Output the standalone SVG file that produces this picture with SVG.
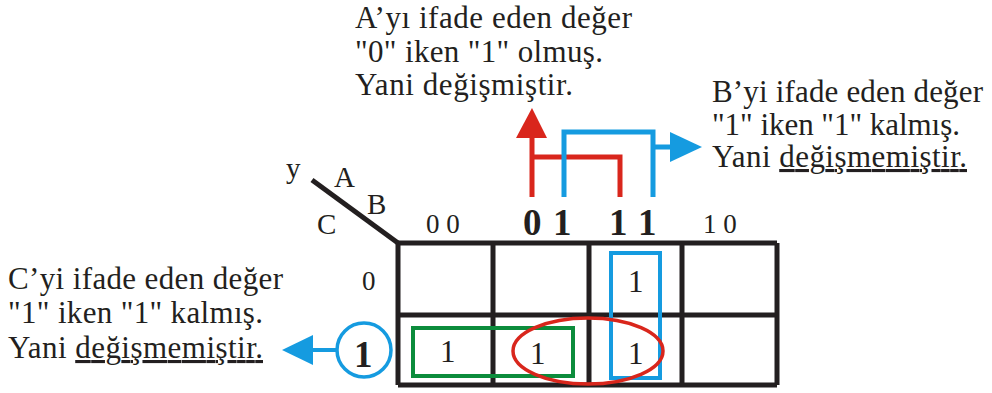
<svg xmlns="http://www.w3.org/2000/svg" width="992" height="393" viewBox="0 0 992 393" font-family="'Liberation Serif', 'Times New Roman', serif">
<style>
text{fill:#231f20}
.t{font-size:31px}
.h{font-size:29px}
.k{font-size:27px}
.b{font-size:37px;font-weight:bold}
.c{font-size:31px}
.g{stroke:#231f20;stroke-width:5;fill:none}
.red{stroke:#d9261c;fill:none}
.blue{stroke:#159be0;fill:none}
</style>
<rect width="992" height="393" fill="#fff"/>
<g id="kmap" font-family="Liberation Serif, serif">
<path class="g" d="M398 243H777M398 315H777M398 385H777M398 243V385M493 243V385M589 243V385M682 243V385M777 243V385"/>
<path class="g" d="M312 180L398 243" stroke-width="4"/>
<text class="h" x="286" y="178">y</text>
<text class="h" x="334" y="187">A</text>
<text class="h" x="367" y="214">B</text>
<text class="h" x="317" y="234">C</text>
<text class="k" x="426" y="233">0 0</text>
<text class="b" x="523" y="235">0</text>
<text class="b" x="553" y="235">1</text>
<text class="b" x="609" y="235">1</text>
<text class="b" x="638" y="235">1</text>
<text class="k" x="703" y="233">1 0</text>
<text class="k" x="362" y="290">0</text>
<text class="c" x="628" y="292">1</text>
<text class="c" x="440" y="362">1</text>
<text class="c" x="530" y="364">1</text>
<text class="c" x="628" y="364">1</text>
</g>
<g id="groups">
<rect x="413" y="328" width="160" height="48" stroke="#0c8c3c" stroke-width="4" fill="none"/>
<rect x="611" y="253" width="49" height="125" class="blue" stroke-width="4"/>
<ellipse cx="588" cy="351" rx="75" ry="33" class="red" stroke-width="3.5"/>
</g>
<g id="rowC" font-family="Liberation Serif, serif">
<circle cx="364" cy="350" r="27" class="blue" stroke-width="3.5"/>
<text class="b" x="354" y="367">1</text>
</g>
<g id="connectors">
<path class="red" stroke-width="5" d="M532 197V138M532 157H620V197"/>
<polygon points="532,108 547,138 516,138" fill="#d9261c"/>
<path class="blue" stroke-width="5" d="M564 197V132H653V197M653 147H672"/>
<polygon points="702,147 670,132 670,162" fill="#159be0"/>
<path class="blue" stroke-width="4" d="M337 350H312"/>
<polygon points="282,350 313,335 313,365" fill="#159be0"/>
</g>
<g id="noteA" font-family="Liberation Serif, serif">
<text class="t" x="355" y="28" textLength="277" lengthAdjust="spacing">A’yı ifade eden değer</text>
<text class="t" x="355" y="62" textLength="248" lengthAdjust="spacing">"0" iken "1" olmuş.</text>
<text class="t" x="355" y="95" textLength="218" lengthAdjust="spacing">Yani değişmiştir.</text>
</g>
<g id="noteB" font-family="Liberation Serif, serif">
<text class="t" x="712" y="102" textLength="271" lengthAdjust="spacing">B’yi ifade eden değer</text>
<text class="t" x="712" y="135" textLength="248" lengthAdjust="spacing">"1" iken "1" kalmış.</text>
<text class="t" x="712" y="167" textLength="255" lengthAdjust="spacing">Yani <tspan text-decoration="underline">değişmemiştir.</tspan></text>
</g>
<g id="noteC" font-family="Liberation Serif, serif">
<text class="t" x="8" y="289" textLength="275" lengthAdjust="spacing">C’yi ifade eden değer</text>
<text class="t" x="8" y="323" textLength="255" lengthAdjust="spacing">"1" iken "1" kalmış.</text>
<text class="t" x="8" y="358" textLength="255" lengthAdjust="spacing">Yani <tspan text-decoration="underline">değişmemiştir.</tspan></text>
</g>
</svg>
